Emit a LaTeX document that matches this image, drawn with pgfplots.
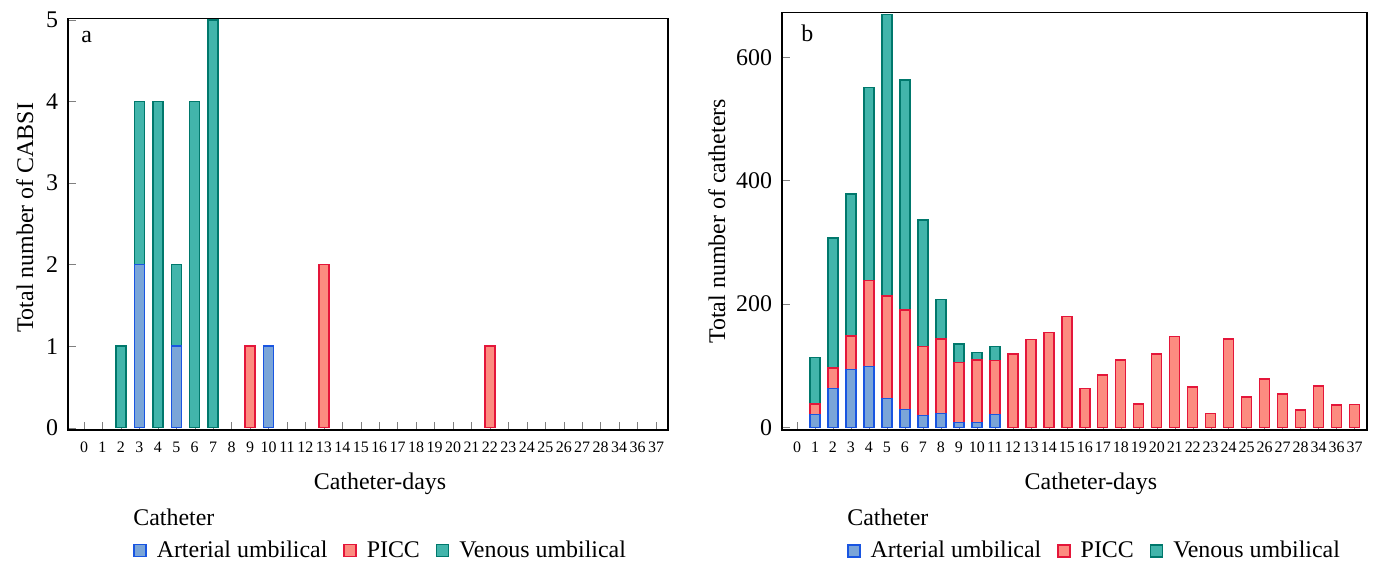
\documentclass[border=0pt]{standalone}
\usepackage{pgfplots}
\pgfplotsset{compat=1.18}
\usepackage{pgfplotstable}
\usepackage{fontspec}
\setmainfont{Liberation Serif}

\definecolor{artfill}{RGB}{122,165,216}
\definecolor{artedge}{RGB}{25,85,225}
\definecolor{piccfill}{RGB}{252,140,128}
\definecolor{piccedge}{RGB}{228,22,58}
\definecolor{venfill}{RGB}{66,181,171}
\definecolor{venedge}{RGB}{0,120,108}

% x = category index, labels 0..28, 34, 36, 37
\pgfplotstableread{
x A P V
0 0 0 0
1 0 0 0
2 0 0 1
3 2 0 2
4 0 0 4
5 1 0 1
6 0 0 4
7 0 0 5
8 0 0 0
9 0 1 0
10 1 0 0
11 0 0 0
12 0 0 0
13 0 2 0
14 0 0 0
15 0 0 0
16 0 0 0
17 0 0 0
18 0 0 0
19 0 0 0
20 0 0 0
21 0 0 0
22 0 1 0
23 0 0 0
24 0 0 0
25 0 0 0
26 0 0 0
27 0 0 0
28 0 0 0
29 0 0 0
30 0 0 0
31 0 0 0
}\cabsi

\pgfplotstableread{
x A P V
0 0 0 0
1 21 17 75
2 63 33 211
3 94 54 230
4 99 139 313
5 47 166 456
6 29 161 373
7 19 112 205
8 22 121 64
9 8 97 30
10 8 101 12
11 21 87 23
12 0 119 0
13 0 142 0
14 0 154 0
15 0 180 0
16 0 63 0
17 0 85 0
18 0 109 0
19 0 38 0
20 0 119 0
21 0 147 0
22 0 65 0
23 0 22 0
24 0 143 0
25 0 49 0
26 0 78 0
27 0 54 0
28 0 28 0
29 0 67 0
30 0 36 0
31 0 37 0
}\cath

\tikzset{paneltext/.style={anchor=base west, inner sep=0pt, font=\fontsize{12}{14}\selectfont}}

\pgfplotsset{
  panel/.style={
    scale only axis,
    clip mode=individual,
    ybar stacked,
    bar width=5bp,
    xtick={0,...,31},
    xticklabels={0,1,2,3,4,5,6,7,8,9,10,11,12,13,14,15,16,17,18,19,20,21,22,23,24,25,26,27,28,34,36,37},
    tick align=inside,
    xtick pos=bottom,
    ytick pos=left,
    major tick length=4bp,
    axis line style={line width=0.6bp},
    /pgf/number format/assume math mode=true,
    xticklabel style={font=\fontsize{8}{9}\selectfont, yshift=-2.5bp},
    yticklabel style={font=\fontsize{12}{14}\selectfont, xshift=-1.5bp},
    label style={font=\fontsize{12}{14}\selectfont},
    xlabel={Catheter-days},
    xlabel style={anchor=base, yshift=-29.5bp},
    ylabel style={anchor=base},
    every axis plot/.append style={line width=0.7bp},
    legend image code/.code={\draw[#1] (0bp,-3bp) rectangle (6bp,3bp);},
    legend style={draw=none, fill=none, inner sep=0pt, legend columns=3,
      anchor=west, font=\fontsize{12}{14}\selectfont,
      /tikz/every odd column/.style={column sep=3bp},
      /tikz/every even column/.style={column sep=6bp}},
  },
}

\begin{document}
\begin{tikzpicture}
\useasboundingbox (0,0) rectangle (686.5bp,282.5bp);

\begin{axis}[panel,
  at={(34bp,67.5bp)}, anchor=south west,
  width=300bp, height=205.9bp,
  xmin=-0.867, xmax=31.65,
  ymin=-0.028, ymax=5.02,
  ytick={0,1,2,3,4,5},
  ylabel={Total number of CABSI},
  ylabel style={at={(axis description cs:-0.0583,0.515)}},
  xlabel style={at={(axis description cs:0.52,0)}},
  legend style={at={(axis description cs:0.1083,-0.293)}},
]
\addplot[fill=artfill, draw=artedge] table[x=x, y=A] {\cabsi};
\addlegendentry{Arterial umbilical}
\addplot[fill=piccfill, draw=piccedge] table[x=x, y=P] {\cabsi};
\addlegendentry{PICC}
\addplot[fill=venfill, draw=venedge] table[x=x, y=V] {\cabsi};
\addlegendentry{Venous umbilical}
\node[paneltext] at (axis description cs:0.0217,0.942) {a};
\node[paneltext] at (axis description cs:0.1083,-0.2324) {Catheter};
\end{axis}

\begin{axis}[panel,
  at={(391bp,67.5bp)}, anchor=south west,
  width=292.5bp, height=208.7bp,
  xmin=-0.834, xmax=31.69,
  ymin=-4.4, ymax=672.3,
  ytick={0,200,400,600},
  ylabel={Total number of catheters},
  ylabel style={at={(axis description cs:-0.0974,0.5)}},
  xlabel style={at={(axis description cs:0.528,0)}},
  legend style={at={(axis description cs:0.111,-0.2895)}},
]
\addplot[fill=artfill, draw=artedge] table[x=x, y=A] {\cath};
\addlegendentry{Arterial umbilical}
\addplot[fill=piccfill, draw=piccedge] table[x=x, y=P] {\cath};
\addlegendentry{PICC}
\addplot[fill=venfill, draw=venedge] table[x=x, y=V] {\cath};
\addlegendentry{Venous umbilical}
\node[paneltext] at (axis description cs:0.0325,0.9306) {b};
\node[paneltext] at (axis description cs:0.111,-0.2297) {Catheter};
\end{axis}
\end{tikzpicture}
\end{document}
